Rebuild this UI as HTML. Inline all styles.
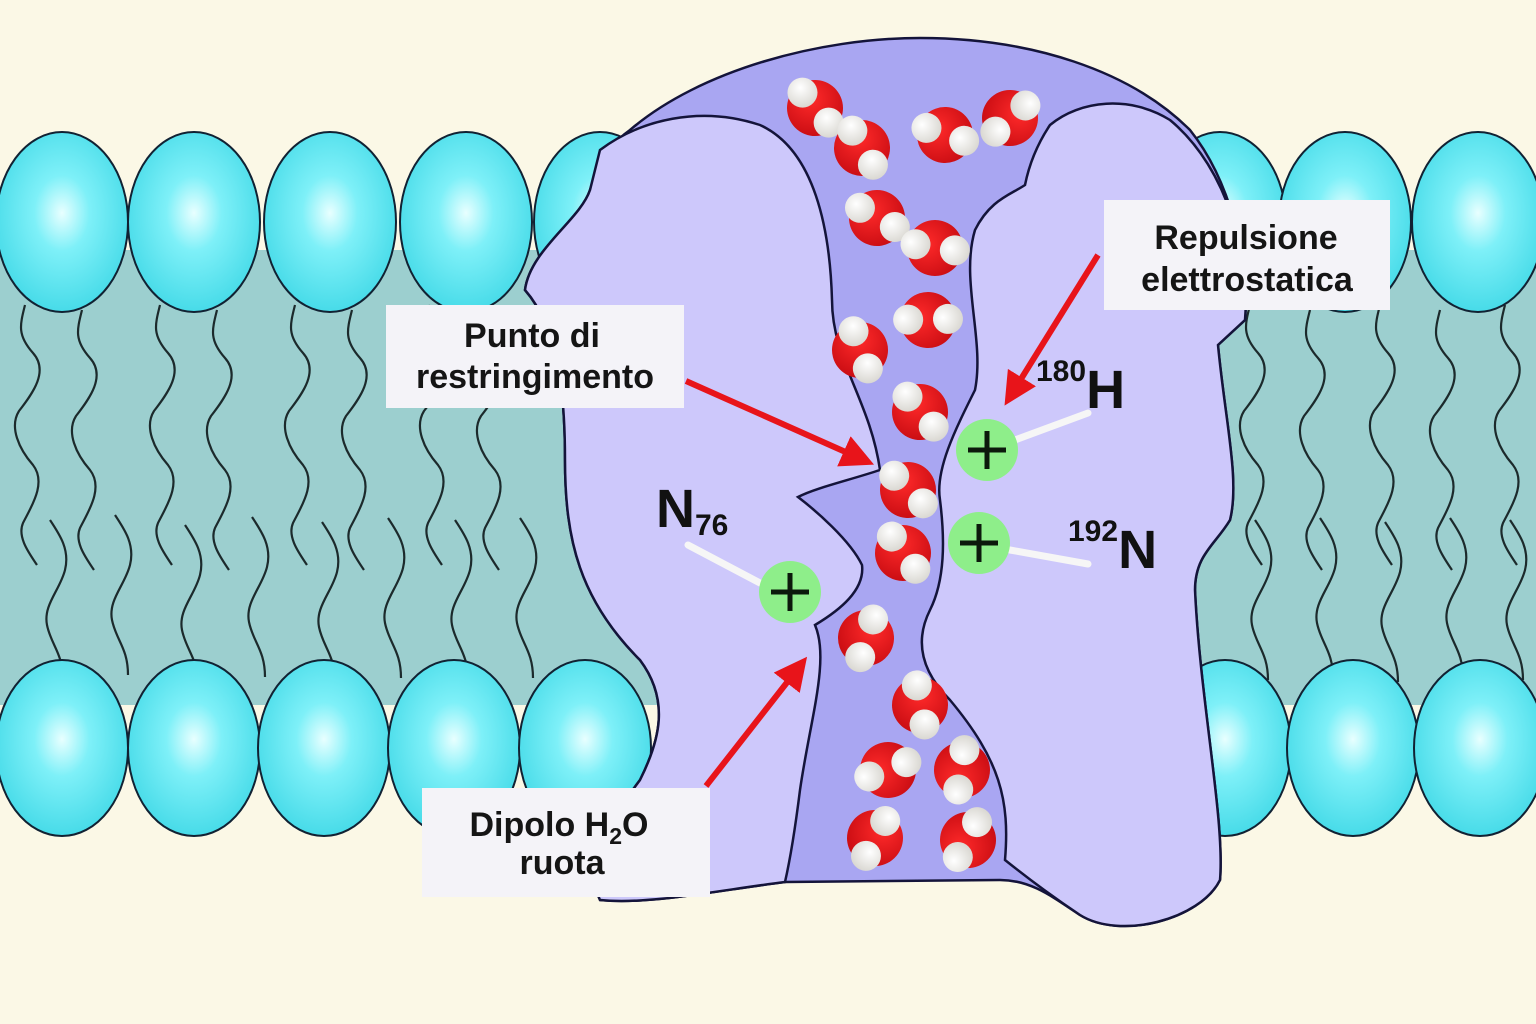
<!DOCTYPE html>
<html><head><meta charset="utf-8"><style>
html,body{margin:0;padding:0;background:#fbf8e6;}
svg{display:block;}
text{font-family:"Liberation Sans",sans-serif;}
</style></head><body>
<svg width="1536" height="1024" viewBox="0 0 1536 1024" xmlns="http://www.w3.org/2000/svg">
<defs>
<radialGradient id="hd" cx="0.5" cy="0.45" r="0.6">
<stop offset="0" stop-color="#e8ffff"/><stop offset="0.35" stop-color="#7ef0f8"/><stop offset="1" stop-color="#3fd8e6"/>
</radialGradient>
<radialGradient id="rd" cx="0.4" cy="0.35" r="0.7"><stop offset="0" stop-color="#ff2a2a"/><stop offset="1" stop-color="#c80c12"/></radialGradient>
<radialGradient id="wh" cx="0.4" cy="0.35" r="0.7"><stop offset="0" stop-color="#ffffff"/><stop offset="1" stop-color="#d8d6d0"/></radialGradient>
<path id="tu" d="M0,0 c-5,20 -8,30 8,48 c16,18 0,40 -14,58 c-10,16 0,38 14,54 c14,18 -2,42 -10,58 c-6,14 6,30 14,42" fill="none" stroke="#1c2a2c" stroke-width="2.2"/>
<path id="tl" d="M0,0 c10,15 20,30 15,50 c-5,20 -22,35 -18,55 c4,20 16,28 16,55" fill="none" stroke="#1c2a2c" stroke-width="2.2"/>
<g id="w"><circle cx="0" cy="0" r="28" fill="url(#rd)"/><circle cx="-15" cy="-13" r="15" fill="url(#wh)"/><circle cx="16" cy="12" r="15" fill="url(#wh)"/></g>
<marker id="ah" viewBox="0 0 10 10" refX="8" refY="5" markerWidth="5.5" markerHeight="5.5" orient="auto"><path d="M0,0 L10,5 L0,10 z" fill="#e8141a"/></marker>
</defs>
<rect x="0" y="250" width="1536" height="455" fill="#9ccfcf"/>
<g>
<use href="#tu" x="25" y="305"/><use href="#tu" x="82" y="310"/>
<use href="#tu" x="160" y="305"/><use href="#tu" x="217" y="310"/>
<use href="#tu" x="295" y="305"/><use href="#tu" x="352" y="310"/>
<use href="#tu" x="430" y="305"/><use href="#tu" x="487" y="310"/>
<use href="#tu" x="1250" y="305"/><use href="#tu" x="1310" y="310"/>
<use href="#tu" x="1380" y="305"/><use href="#tu" x="1440" y="310"/>
<use href="#tu" x="1505" y="305"/>
<use href="#tl" x="50" y="520"/><use href="#tl" x="115" y="515"/>
<use href="#tl" x="185" y="525"/><use href="#tl" x="252" y="517"/>
<use href="#tl" x="322" y="522"/><use href="#tl" x="388" y="518"/>
<use href="#tl" x="455" y="520"/><use href="#tl" x="520" y="518"/>
<use href="#tl" x="1255" y="520"/><use href="#tl" x="1320" y="518"/>
<use href="#tl" x="1385" y="522"/><use href="#tl" x="1450" y="518"/>
<use href="#tl" x="1510" y="520"/>
</g>
<g fill="url(#hd)" stroke="#123" stroke-width="2">
<ellipse cx="62" cy="222" rx="66" ry="90"/><ellipse cx="194" cy="222" rx="66" ry="90"/><ellipse cx="330" cy="222" rx="66" ry="90"/><ellipse cx="466" cy="222" rx="66" ry="90"/><ellipse cx="600" cy="222" rx="66" ry="90"/>
<ellipse cx="1220" cy="222" rx="66" ry="90"/><ellipse cx="1345" cy="222" rx="66" ry="90"/><ellipse cx="1478" cy="222" rx="66" ry="90"/>
<ellipse cx="62" cy="748" rx="66" ry="88"/><ellipse cx="194" cy="748" rx="66" ry="88"/><ellipse cx="324" cy="748" rx="66" ry="88"/><ellipse cx="454" cy="748" rx="66" ry="88"/><ellipse cx="585" cy="748" rx="66" ry="88"/>
<ellipse cx="1225" cy="748" rx="66" ry="88"/><ellipse cx="1353" cy="748" rx="66" ry="88"/><ellipse cx="1480" cy="748" rx="66" ry="88"/>
</g>
<path d="M630,130 C700,70 820,38 920,38 C1030,38 1130,70 1190,130 C1230,180 1250,260 1245,320 L1218,345 C1225,420 1240,480 1230,520 C1215,545 1195,555 1195,590 C1200,700 1225,820 1220,880 C1200,920 1120,940 1080,915 C1050,895 1030,880 1000,880 L785,882 C720,890 650,905 600,900 C580,860 625,800 640,780 C660,740 670,700 640,660 C580,600 565,540 565,460 C565,400 560,330 525,290 C530,250 580,220 590,190 C600,160 615,140 630,130 Z" fill="#a9a6f2" stroke="#14143a" stroke-width="2.5"/>
<path d="M600,150 C640,120 700,105 760,125 C815,150 830,230 832,300 C832,360 870,400 880,470 C850,480 815,488 798,497 C815,510 850,540 862,565 C865,590 840,610 815,625 C830,660 810,720 800,790 C795,830 790,860 785,882 C720,890 650,905 600,900 C580,860 625,800 640,780 C660,740 670,700 640,660 C580,600 565,540 565,460 C565,400 560,330 525,290 C530,250 580,220 590,190 Z" fill="#cdc8fb" stroke="#14143a" stroke-width="2.5"/>
<path d="M1050,125 C1080,100 1130,95 1170,120 C1230,170 1250,260 1245,320 L1218,345 C1225,420 1240,480 1230,520 C1215,545 1195,555 1195,590 C1200,700 1225,820 1220,880 C1200,920 1120,940 1080,915 C1050,895 1030,880 1005,860 C1010,800 1000,760 950,700 C920,670 915,640 930,610 C945,580 945,540 940,500 C935,470 955,430 975,390 C985,340 960,280 975,230 C990,200 1010,195 1025,185 C1030,160 1040,140 1050,125 Z" fill="#cdc8fb" stroke="#14143a" stroke-width="2.5"/>
<use href="#w" transform="translate(815,108) rotate(10)"/>
<use href="#w" transform="translate(862,148) rotate(20)"/>
<use href="#w" transform="translate(945,135) rotate(-20)"/>
<use href="#w" transform="translate(1010,118) rotate(100)"/>
<use href="#w" transform="translate(877,218) rotate(-10)"/>
<use href="#w" transform="translate(935,248) rotate(-30)"/>
<use href="#w" transform="translate(860,350) rotate(30)"/>
<use href="#w" transform="translate(928,320) rotate(-40)"/>
<use href="#w" transform="translate(920,412) rotate(10)"/>
<use href="#w" transform="translate(908,490) rotate(5)"/>
<use href="#w" transform="translate(903,553) rotate(15)"/>
<use href="#w" transform="translate(866,638) rotate(70)"/>
<use href="#w" transform="translate(920,705) rotate(40)"/>
<use href="#w" transform="translate(888,770) rotate(-60)"/>
<use href="#w" transform="translate(962,770) rotate(-120)"/>
<use href="#w" transform="translate(875,838) rotate(80)"/>
<use href="#w" transform="translate(968,840) rotate(-100)"/>
<g stroke="#f6f6f6" stroke-width="7" stroke-linecap="round">
<line x1="1015" y1="440" x2="1088" y2="413"/>
<line x1="1010" y1="550" x2="1088" y2="564"/>
<line x1="688" y1="545" x2="760" y2="583"/>
</g>
<g fill="#8eee8a">
<circle cx="987" cy="450" r="31"/><circle cx="979" cy="543" r="31"/><circle cx="790" cy="592" r="31"/>
</g>
<g stroke="#0c1a0c" stroke-width="5">
<path d="M968,450 h38 M987,431 v38"/><path d="M960,543 h38 M979,524 v38"/><path d="M771,592 h38 M790,573 v38"/>
</g>
<g stroke="#e8141a" stroke-width="6" marker-end="url(#ah)">
<line x1="686" y1="381" x2="868" y2="462"/>
<line x1="1098" y1="255" x2="1008" y2="400"/>
<line x1="706" y1="786" x2="803" y2="662"/>
</g>
<g fill="#f4f3f8"><rect x="386" y="305" width="298" height="103"/><rect x="1104" y="200" width="286" height="110"/><rect x="422" y="788" width="288" height="109"/></g>
<g font-size="34" font-weight="bold" fill="#151515" text-anchor="middle">
<text x="532" y="347">Punto di</text><text x="535" y="388">restringimento</text>
<text x="1246" y="249">Repulsione</text><text x="1247" y="291">elettrostatica</text>
<text x="559" y="836">Dipolo H<tspan font-size="23" dy="8">2</tspan><tspan dy="-8">O</tspan></text><text x="562" y="874">ruota</text>
</g>
<g font-weight="bold" fill="#111">
<text x="656" y="527" font-size="54">N<tspan font-size="30" dy="8">76</tspan></text>
<text x="1036" y="381" font-size="30">180<tspan font-size="54" dy="27">H</tspan></text>
<text x="1068" y="541" font-size="30">192<tspan font-size="54" dy="27">N</tspan></text>
</g>
</svg>
</body></html>
